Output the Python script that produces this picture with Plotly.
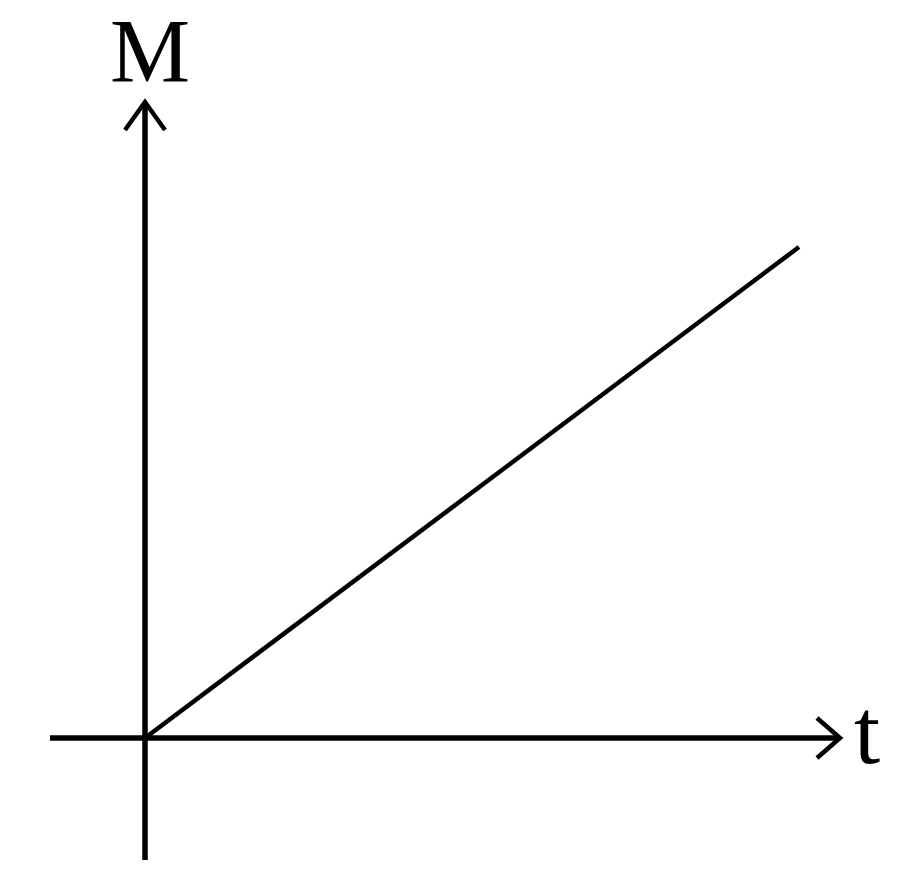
import plotly.graph_objects as go

# the straight line M(t) (1 unit = 100 px)
t_values = [0, 6.54]
m_values = [0, 4.91]

# axis extents
t_axis = [-0.95, 6.95]
m_axis = [-1.22, 6.36]

fig = go.Figure()

fig.add_trace(go.Scatter(x=t_values, y=m_values, mode='lines',
                         line=dict(color='black', width=4.5), hoverinfo='skip'))

# horizontal and vertical axes
fig.add_shape(type='line', x0=t_axis[0], y0=0, x1=t_axis[1], y1=0,
              line=dict(color='black', width=5.5))
fig.add_shape(type='line', x0=0, y0=m_axis[0], x1=0, y1=m_axis[1],
              line=dict(color='black', width=5.5))

# open arrowheads
tx = t_axis[1]
fig.add_shape(type='path', path=f'M {tx-0.23},0.2 L {tx},0 L {tx-0.23},-0.2',
              line=dict(color='black', width=4.5))
my = m_axis[1]
fig.add_shape(type='path', path=f'M -0.2,{my-0.28} L 0,{my} L 0.2,{my-0.28}',
              line=dict(color='black', width=4.5))

fig.add_annotation(x=0.05, y=6.87, text='M', showarrow=False,
                   font=dict(family='Liberation Serif', size=90, color='black'),
                   xanchor='center', yanchor='middle')
fig.add_annotation(x=7.22, y=0.07, text='t', showarrow=False,
                   font=dict(family='Liberation Serif', size=94, color='black'),
                   xanchor='center', yanchor='middle')

fig.update_xaxes(range=[-1.45, 7.55], visible=False)
fig.update_yaxes(range=[-1.36, 7.38], visible=False)
fig.update_layout(width=900, height=874, margin=dict(l=0, r=0, t=0, b=0),
                  plot_bgcolor='white', paper_bgcolor='white', showlegend=False)

fig.write_html("out.html", config={'displayModeBar': False},
               post_script="document.body.style.margin='0';")
